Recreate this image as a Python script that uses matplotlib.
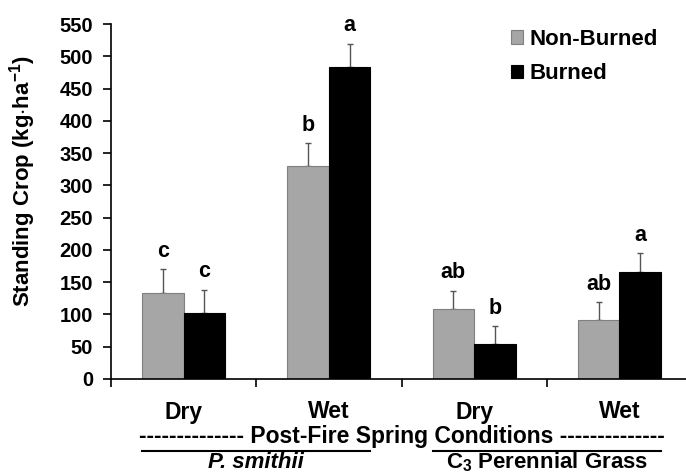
import numpy as np
import matplotlib
matplotlib.use('Agg')
import matplotlib.pyplot as plt
import matplotlib.transforms as mtransforms

plt.rcParams['font.family'] = 'Liberation Sans'
plt.rcParams['font.weight'] = 'bold'
plt.rcParams['mathtext.fontset'] = 'custom'
plt.rcParams['mathtext.rm'] = 'Liberation Sans:bold'
plt.rcParams['mathtext.bf'] = 'Liberation Sans:bold'
plt.rcParams['mathtext.it'] = 'Liberation Sans:bold:italic'

# standing crop, kg/ha
categories = ['Dry', 'Wet', 'Dry', 'Wet']
nonburned = [134, 330, 109, 91]
nonburned_err = [36, 35, 28, 28]
burned = [103, 483, 54, 166]
burned_err = [35, 36, 28, 29]
letters_nb = ['c', 'b', 'ab', 'ab']
letters_b = ['c', 'a', 'b', 'a']
groups = ['P. smithii', r'C$_\mathbf{3}$ Perennial Grass']

fig = plt.figure(figsize=(6.86, 4.75), dpi=100)
ax = fig.add_axes([111 / 686, 96 / 475, 581 / 686, 355 / 475])

x = np.arange(len(categories))
w = 0.286
ax.bar(x - w / 2, nonburned, w, color='#a6a6a6', edgecolor='#808080',
       linewidth=0.8, label='Non-Burned', zorder=2)
ax.bar(x + w / 2, burned, w, color='black', edgecolor='black',
       linewidth=0.8, label='Burned', zorder=2)
ax.errorbar(x - w / 2, nonburned, yerr=[np.zeros(4), nonburned_err], fmt='none',
            ecolor='#555555', elinewidth=1, capsize=2.5, capthick=1, zorder=1)
ax.errorbar(x + w / 2, burned, yerr=[np.zeros(4), burned_err], fmt='none',
            ecolor='#555555', elinewidth=1, capsize=2.5, capthick=1, zorder=1)

for i in range(len(categories)):
    ax.annotate(letters_nb[i], (x[i] - w / 2, nonburned[i] + nonburned_err[i]),
                xytext=(0, 13), textcoords='offset points', ha='center',
                va='center', fontsize=15.5, fontweight='bold')
    ax.annotate(letters_b[i], (x[i] + w / 2, burned[i] + burned_err[i]),
                xytext=(0, 13), textcoords='offset points', ha='center',
                va='center', fontsize=15.5, fontweight='bold')

ax.set_xlim(-0.5, 3.5)
ax.set_ylim(0, 550)
ax.set_yticks(range(0, 551, 50))
ax.set_xticks([-0.5, 0.5, 1.5, 2.5, 3.5])
ax.set_xticklabels([])
ax.tick_params(axis='y', labelsize=14.5, length=6, width=1.2, pad=7)
ax.tick_params(axis='x', length=6, width=1.2)
for lab in ax.get_yticklabels():
    lab.set_fontweight('bold')
ax.spines['top'].set_visible(False)
ax.spines['right'].set_visible(False)
ax.spines['left'].set_linewidth(1.2)
ax.spines['bottom'].set_linewidth(1.2)

fig.text(23 / 686, 1 - 181 / 475, r'Standing Crop (kg$\cdot$ha$^{\mathbf{-1}}$)',
         rotation=90, ha='center', va='center', fontsize=16, fontweight='bold')

ax.legend(loc='upper left', bbox_to_anchor=(511 / 686, 1 - 29 / 475),
          bbox_transform=fig.transFigure, frameon=False, fontsize=16,
          handlelength=0.55, handleheight=0.55, handletextpad=0.3,
          labelspacing=0.6, borderpad=0, borderaxespad=0)

# labels below the axis
tr = mtransforms.blended_transform_factory(ax.transData, fig.transFigure)
for i, c in enumerate(categories):
    ax.text(x[i], 1 - 412 / 475, c, transform=tr, ha='center', va='center',
            fontsize=16.5, fontweight='bold')
ax.text(1.5, 1 - 436 / 475,
        '-------------- Post-Fire Spring Conditions --------------',
        transform=tr, ha='center', va='center', fontsize=16.5, fontweight='bold')
ax.plot([-w, 1 + w], [1 - 451 / 475] * 2, color='black', lw=1.5,
        transform=tr, clip_on=False)
ax.plot([2 - w, 3 + w], [1 - 451 / 475] * 2, color='black', lw=1.5,
        transform=tr, clip_on=False)
ax.text(0.5, 1 - 468 / 475, groups[0], transform=tr, ha='center', va='baseline',
        fontsize=16, fontweight='bold', style='italic')
ax.text(2.5, 1 - 468 / 475, groups[1], transform=tr, ha='center', va='baseline',
        fontsize=16, fontweight='bold')

fig.savefig('out.png', dpi=100)
